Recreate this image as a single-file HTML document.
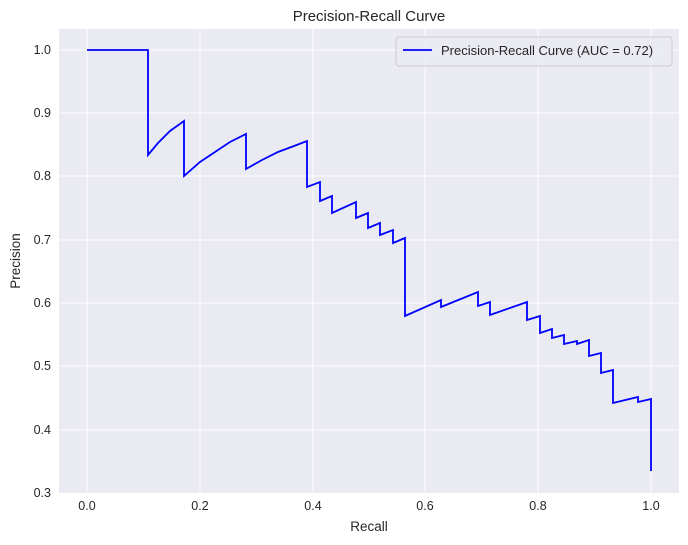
<!DOCTYPE html>
<html><head><meta charset="utf-8"><style>
body{margin:0;background:#fff;}
svg{display:block;font-family:"Liberation Sans",Arial,sans-serif;}
</style></head><body>
<svg width="688" height="545" viewBox="0 0 688 545">
<rect x="59" y="29" width="620" height="464" fill="#eaeaf2"/>
<g stroke="#fff" stroke-width="1">
<line x1="87" y1="29" x2="87" y2="493"/><line x1="200" y1="29" x2="200" y2="493"/>
<line x1="313" y1="29" x2="313" y2="493"/><line x1="425" y1="29" x2="425" y2="493"/>
<line x1="538" y1="29" x2="538" y2="493"/><line x1="651" y1="29" x2="651" y2="493"/>
<line x1="59" y1="50" x2="679" y2="50"/><line x1="59" y1="113" x2="679" y2="113"/>
<line x1="59" y1="176" x2="679" y2="176"/><line x1="59" y1="240" x2="679" y2="240"/>
<line x1="59" y1="303" x2="679" y2="303"/><line x1="59" y1="366" x2="679" y2="366"/>
<line x1="59" y1="430" x2="679" y2="430"/>
</g>
<polyline fill="none" stroke="#0000ff" stroke-width="1.8" stroke-linejoin="miter" points="87,50 148,50 148,155 158,143 170,131 184,121 184,176 200,162 215,152 230,142 246,134 246,169 262,160 278,152 294,146 307,141 307,187 320,182 320,201 332,196 332,213 356,202 356,218 368,213 368,228 380,223 380,235 393,230 393,243 405,238 405,316 441,300 441,307 478,292 478,306 490,302 490,315 527,302 527,320 540,316 540,333 552,329 552,338 564,335 564,344 577,341 577,344 589,340 589,356 601,353 601,373 613,370 613,403 638,397 638,402 651,399 651,471"/>
<g font-size="12.5" fill="#262626" text-anchor="middle">
<text x="87" y="510">0.0</text><text x="200" y="510">0.2</text><text x="313" y="510">0.4</text>
<text x="425" y="510">0.6</text><text x="538" y="510">0.8</text><text x="651" y="510">1.0</text>
</g>
<g font-size="12.5" fill="#262626" text-anchor="end">
<text x="51" y="54">1.0</text><text x="51" y="117">0.9</text><text x="51" y="180">0.8</text>
<text x="51" y="244">0.7</text><text x="51" y="307">0.6</text><text x="51" y="370">0.5</text>
<text x="51" y="434">0.4</text><text x="51" y="497">0.3</text>
</g>
<text x="369" y="531" font-size="13.5" fill="#262626" text-anchor="middle">Recall</text>
<text x="20" y="261" font-size="13.5" fill="#262626" text-anchor="middle" transform="rotate(-90 20 261)">Precision</text>
<text x="369" y="21" font-size="15" fill="#262626" text-anchor="middle">Precision-Recall Curve</text>
<rect x="396" y="37" width="276" height="29" rx="3" fill="#eaeaf2" fill-opacity="0.8" stroke="#cccccc" stroke-width="1"/>
<line x1="403" y1="50" x2="432" y2="50" stroke="#0000ff" stroke-width="1.8"/>
<text x="441" y="55" font-size="13" fill="#262626">Precision-Recall Curve (AUC = 0.72)</text>
</svg>
</body></html>
